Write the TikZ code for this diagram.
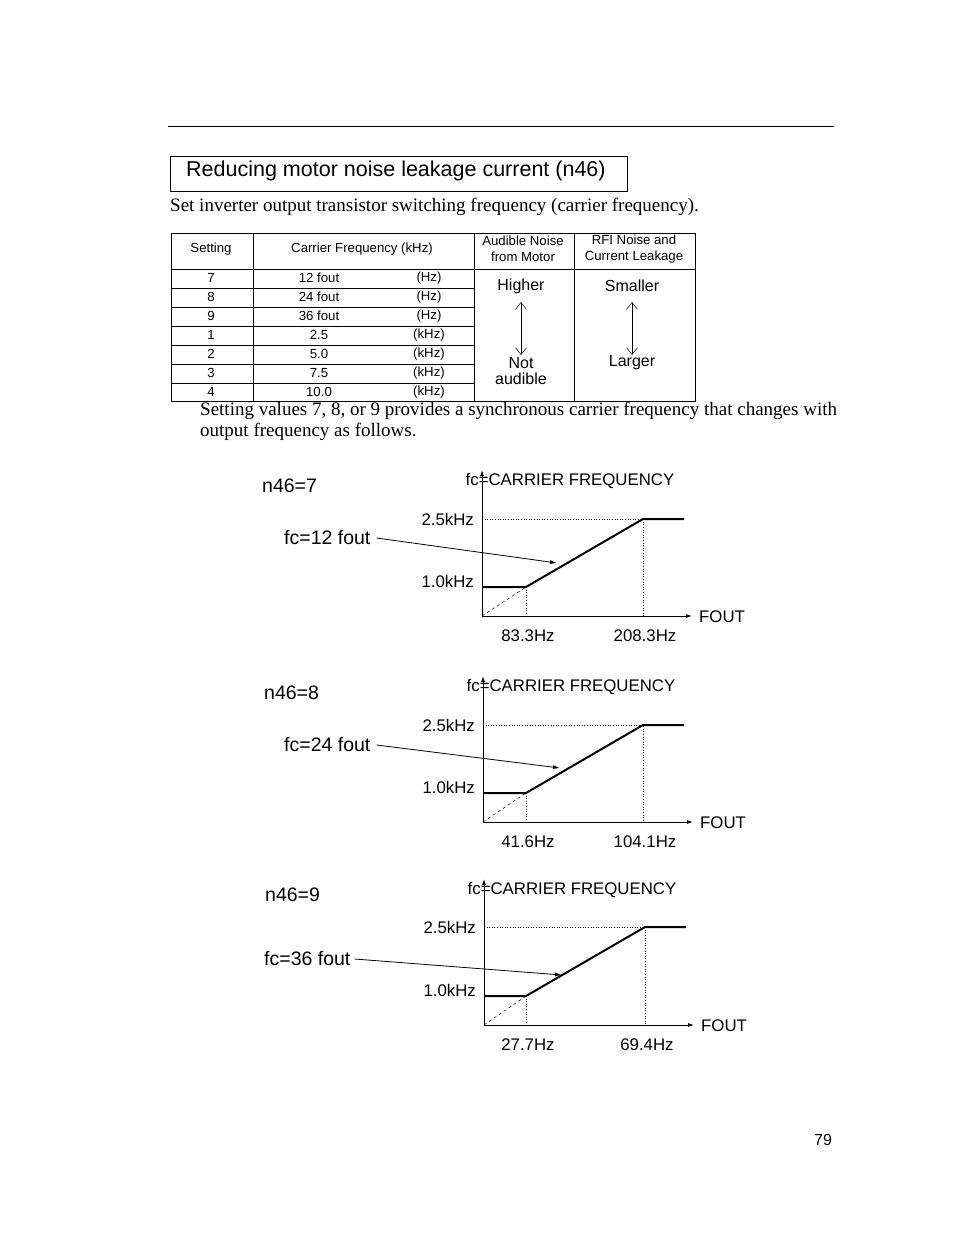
\documentclass[tikz,border=0pt]{standalone}
\usepackage{fontspec}
\setmainfont{Liberation Serif}
\newfontfamily\sans{Liberation Sans}
\usetikzlibrary{arrows.meta}
\tikzset{
 tb/.style={font=\sans\fontsize{13.2}{15.5}\selectfont,inner sep=0pt,align=center},
 tl/.style={font=\sans\fontsize{16}{16}\selectfont,inner sep=0pt,align=center},
 gl/.style={font=\sans\fontsize{16.8}{19}\selectfont,inner sep=0pt},
 gb/.style={font=\sans\fontsize{19.5}{22}\selectfont,inner sep=0pt},
 ax/.style={line width=0.9pt,-{Latex[length=6pt,width=4pt]}},
 curve/.style={line width=2pt},
 dl/.style={dotted,line width=0.6pt},
 ptr/.style={line width=0.8pt,-{Latex[length=7pt,width=4pt]}},
}
\newcommand\mygraph[9]{%
 \coordinate (#7o) at (#1,#2);
 \coordinate (#7top) at (#1,#2-146);
 \coordinate (#7right) at (#1+210,#2);
 \draw[ax] (#7o) -- (#7top);
 \draw[ax] (#7o) -- (#7right);
 \draw[curve] (#1,#4) -- (#5,#4) -- (#6,#3) -- (#6+41,#3);
 \draw[dl] (#1,#3) -- (#6,#3) -- (#6,#2);
 \draw[dl] (#5,#4) -- (#5,#2);
 \draw[dashed,line width=0.5pt] (#7o) -- (#5,#4);
 \node[gl,anchor=east] (#7a) at (#1-8,#3) {2.5kHz};
 \node[gl,anchor=east] (#7b) at (#1-8,#4-6) {1.0kHz};
 \node[gl] (#7c) at (#5+2,#2+20) {#8};
 \node[gl] (#7d) at (#6+2,#2+20) {#9};
 \node[gl,anchor=west] (#7e) at (#1+217,#2+1) {FOUT};
 \node[gl] (#7f) at (#1+88,#2-135) {fc=CARRIER FREQUENCY};
}
\begin{document}
\begin{tikzpicture}[x=1pt,y=-1pt]
\useasboundingbox (0,0) rectangle (954,1235);
\fill[white] (0,0) rectangle (954,1235);
\draw[line width=0.8pt] (168,126) -- (834,126);
\node[draw,line width=0.8pt,minimum width=457pt,minimum height=35pt,anchor=north west,inner sep=0pt] (tbox) at (170,156) {};
\node[anchor=west,font=\sans\fontsize{21.5}{24}\selectfont,inner sep=0pt] (title) at (186,171) {Reducing motor noise leakage current (n46)};
\node[anchor=west,font=\fontsize{19}{22}\selectfont,inner sep=0pt] (intro) at (170,207) {Set inverter output transistor switching frequency (carrier frequency).};
% table
\draw[line width=0.7pt] (171,233) rectangle (695,401);
\foreach \x in {253,474,574} \draw[line width=0.7pt] (\x,233) -- (\x,401);
\draw[line width=0.7pt] (171,269) -- (695,269);
\foreach \y in {288,307,326,345,364,383} \draw[line width=0.7pt] (171,\y) -- (474,\y);
\node[tb] (h1) at (211,249) {Setting};
\node[tb] (h2) at (362,249) {Carrier Frequency (kHz)};
\node[tb] (h3) at (523,249) {Audible Noise\\from Motor};
\node[tb] (h4) at (634,249) {RFI Noise and\\Current Leakage};
\foreach \s/\v/\u [count=\i] in {7/12 fout/(Hz),8/24 fout/(Hz),9/36 fout/(Hz),1/2.5/(kHz),2/5.0/(kHz),3/7.5/(kHz),4/10.0/(kHz)}{
 \node[tb] (s\i) at (211,259+19*\i) {\s};
 \node[tb] (v\i) at (319,259+19*\i) {\v};
 \node[tb] (u\i) at (429,259+19*\i) {\u};
}
\node[tl] (hi) at (521,286) {Higher};
\node[tl] (na) at (521,371) {Not\\audible};
\node[tl] (sm) at (632,286) {Smaller};
\node[tl] (la) at (632,363) {Larger};
\draw[line width=0.5pt,{Straight Barb[length=7pt,width=11pt]}-{Straight Barb[length=7pt,width=11pt]}] (521,302) -- (521,355);
\draw[line width=0.5pt,{Straight Barb[length=7pt,width=11pt]}-{Straight Barb[length=7pt,width=11pt]}] (632,302) -- (632,355);
\node[anchor=west,font=\fontsize{19}{22}\selectfont,inner sep=0pt] (p1) at (200,411) {Setting values 7, 8, or 9 provides a synchronous carrier frequency that changes with};
\node[anchor=west,font=\fontsize{19}{22}\selectfont,inner sep=0pt] (p2) at (200,432) {output frequency as follows.};
% graphs
\mygraph{482}{616}{519}{587}{526}{643}{g1}{83.3Hz}{208.3Hz}
\node[gb,anchor=west] (n1) at (262,486) {n46=7};
\node[gb,anchor=west] (f1) at (284,538) {fc=12 fout};
\coordinate (t1) at (557,563);
\draw[ptr] (f1.east) ++(6,0) -- (t1);
\mygraph{483}{822}{725}{793}{526}{643}{g2}{41.6Hz}{104.1Hz}
\node[gb,anchor=west] (n2) at (264,693) {n46=8};
\node[gb,anchor=west] (f2) at (284,745) {fc=24 fout};
\coordinate (t2) at (560,768);
\draw[ptr] (f2.east) ++(6,0) -- (t2);
\mygraph{484}{1025}{927}{996}{526}{645}{g3}{27.7Hz}{69.4Hz}
\node[gb,anchor=west] (n3) at (265,895) {n46=9};
\node[gb,anchor=west] (f3) at (264,959) {fc=36 fout};
\coordinate (t3) at (562,975);
\draw[ptr] (f3.east) ++(4,0) -- (t3);
\node[font=\sans\fontsize{16}{18}\selectfont,inner sep=0pt] (pg) at (823,1140) {79};
\end{tikzpicture}
\end{document}
